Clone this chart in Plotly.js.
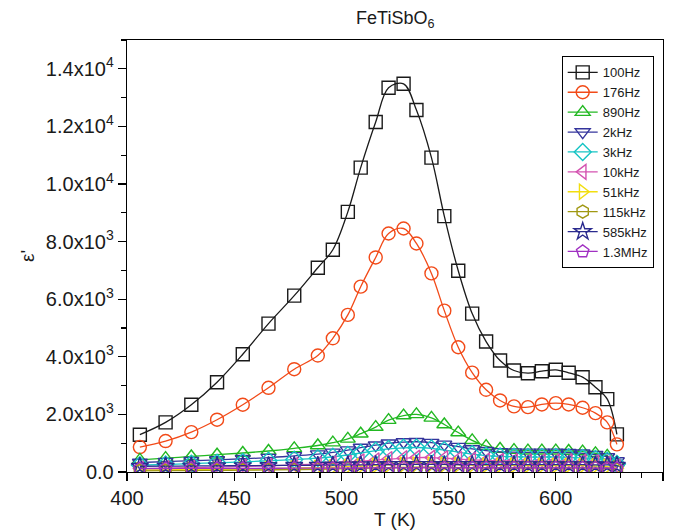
<!DOCTYPE html>
<html>
<head>
<meta charset="utf-8">
<script src="https://cdn.plot.ly/plotly-3.0.1.min.js"></script>
<style>html,body{margin:0;padding:0;background:#fff;}#chart{width:678px;height:532px;}</style>
</head>
<body>
<div id="chart"></div>
<script>
// Temperature (K)
const temperature = [406, 418, 430, 442, 454, 466, 478, 489, 496, 503, 509, 516, 522, 529, 535, 542, 548, 554.5, 561, 567.5, 574, 580.5, 587, 593.5, 600, 606, 612.5, 618.5, 624, 628.5];

const seriesNames = ["100Hz", "176Hz", "890Hz", "2kHz", "3kHz", "10kHz", "51kHz", "115kHz", "585kHz", "1.3MHz"];

const eps100Hz  = [1296, 1722, 2335, 3118, 4089, 5152, 6123, 7093, 7716, 9033, 10568, 12152, 13340, 13479, 12568, 10915, 8884, 6989, 5500, 4529, 3870, 3524, 3430, 3500, 3548, 3444, 3292, 2945, 2529, 1306];
const eps176Hz  = [866, 1074, 1386, 1816, 2335, 2924, 3569, 4044, 4643, 5454, 6435, 7450, 8281, 8455, 7935, 6895, 5603, 4331, 3450, 2855, 2484, 2277, 2252, 2346, 2391, 2346, 2231, 2044, 1722, 960];
const eps890Hz  = [420, 480, 540, 600, 660, 730, 820, 920, 1020, 1150, 1330, 1560, 1800, 1960, 2000, 1880, 1650, 1370, 1100, 900, 800, 760, 740, 740, 740, 730, 710, 650, 560, 330];
const eps2kHz   = [330, 360, 390, 420, 460, 500, 560, 620, 680, 760, 850, 930, 1000, 1040, 1050, 1020, 960, 880, 800, 740, 700, 690, 680, 680, 680, 670, 650, 600, 520, 380];
const eps3kHz   = [240, 260, 290, 320, 350, 390, 430, 480, 530, 590, 660, 740, 800, 840, 850, 820, 760, 690, 620, 570, 540, 530, 520, 520, 520, 510, 490, 450, 390, 280];
const eps10kHz  = [120, 135, 150, 170, 190, 215, 245, 275, 300, 330, 370, 410, 450, 480, 500, 500, 480, 450, 420, 400, 390, 380, 375, 375, 375, 370, 360, 340, 300, 200];
const eps51kHz  = [70, 75, 85, 95, 105, 120, 135, 150, 165, 185, 205, 225, 245, 260, 270, 270, 260, 250, 240, 235, 230, 228, 226, 226, 226, 224, 220, 210, 190, 130];
const eps115kHz = [40, 45, 50, 58, 65, 75, 85, 95, 105, 115, 125, 140, 150, 160, 165, 165, 160, 155, 150, 148, 146, 145, 145, 145, 145, 144, 142, 138, 125, 90];
const eps585kHz = [200, 205, 210, 215, 220, 225, 230, 235, 240, 245, 250, 255, 260, 262, 264, 264, 262, 260, 258, 256, 255, 255, 255, 255, 255, 254, 253, 250, 245, 230];
const eps1_3MHz = [120, 122, 124, 126, 128, 130, 132, 134, 136, 138, 140, 142, 144, 146, 146, 146, 145, 144, 143, 142, 142, 142, 142, 142, 142, 141, 140, 138, 135, 125];

const yTickVals = [0, 2000, 4000, 6000, 8000, 10000, 12000, 14000];
const yTickText = ["0.0", "2.0x10<sup>3</sup>", "4.0x10<sup>3</sup>", "6.0x10<sup>3</sup>", "8.0x10<sup>3</sup>", "1.0x10<sup>4</sup>", "1.2x10<sup>4</sup>", "1.4x10<sup>4</sup>"];

const allSeries = [eps100Hz, eps176Hz, eps890Hz, eps2kHz, eps3kHz, eps10kHz, eps51kHz, eps115kHz, eps585kHz, eps1_3MHz];
const colors = ["#1a1a1a", "#F24A18", "#22B822", "#34349C", "#16C4C4", "#D452B0", "#F2DE10", "#A09812", "#2A2A8E", "#A030C2"];
const symbols = ["square-open", "circle-open", "triangle-up-open", "triangle-down-open", "diamond-open", "triangle-left-open", "triangle-right-open", "hexagon-open", "star-open", "pentagon-open"];

const traces = allSeries.map((ys, i) => ({
  type: "scatter",
  mode: "lines+markers",
  x: temperature,
  y: ys,
  name: seriesNames[i],
  line: {color: colors[i], width: 1.3, shape: "spline", smoothing: 1},
  marker: {symbol: symbols[i], size: 13, color: colors[i], line: {color: colors[i], width: 1.4}}
}));

const FONT = "Liberation Sans, Arial, sans-serif";

const layout = {
  width: 678, height: 532,
  margin: {l: 127, r: 15, t: 40, b: 60},
  paper_bgcolor: "#ffffff", plot_bgcolor: "#ffffff",
  font: {family: FONT, color: "#1a1a1a", size: 19},
  title: {text: "FeTiSbO<sub>6</sub>", font: {family: FONT, size: 18, color: "#1a1a1a"}, x: 0.583, xanchor: "center", y: 0.966, yanchor: "middle"},
  showlegend: true,
  legend: {x: 0.811, y: 0.962, xanchor: "left", yanchor: "top", bordercolor: "#000", borderwidth: 1, bgcolor: "#fff",
           font: {family: FONT, size: 13, color: "#1a1a1a"}, tracegroupgap: 0, itemwidth: 30},
  xaxis: {
    range: [400, 650], tickmode: "array", tickvals: [400, 450, 500, 550, 600, 650],
    ticks: "outside", ticklen: 8, tickwidth: 1.3, tickcolor: "#000",
    showline: true, linecolor: "#000", linewidth: 1.3, mirror: true,
    showgrid: false, zeroline: false,
    minor: {tickmode: "linear", dtick: 10, tick0: 400, ticks: "outside", ticklen: 5, tickwidth: 1.2, tickcolor: "#000", showgrid: false},
    tickfont: {family: FONT, size: 20},
    title: {text: "T (K)", font: {family: FONT, size: 19}, standoff: 4}
  },
  yaxis: {
    range: [0, 15000], tickmode: "array", tickvals: yTickVals, ticktext: yTickText,
    ticks: "outside", ticklen: 8, tickwidth: 1.3, tickcolor: "#000",
    showline: true, linecolor: "#000", linewidth: 1.3, mirror: true,
    showgrid: false, zeroline: false,
    minor: {tickmode: "linear", dtick: 1000, tick0: 0, ticks: "outside", ticklen: 5, tickwidth: 1.2, tickcolor: "#000", showgrid: false},
    tickfont: {family: FONT, size: 20},
    title: {text: "ε'", font: {family: FONT, size: 19}, standoff: 6}
  }
};

Plotly.newPlot("chart", traces, layout, {displayModeBar: false, staticPlot: true});
</script>
</body>
</html>
